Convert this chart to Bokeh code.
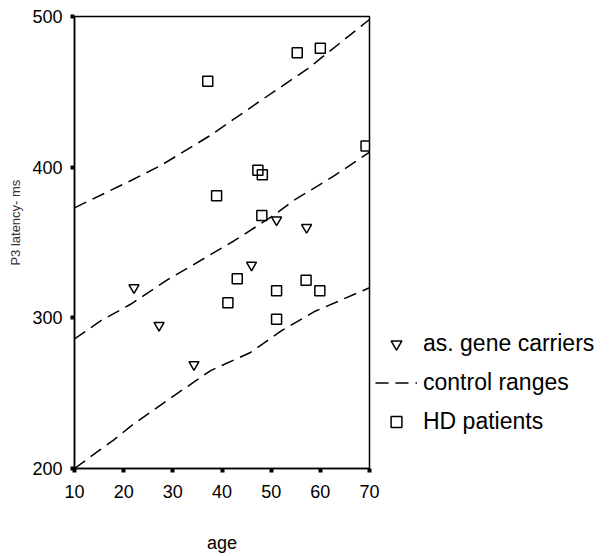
from bokeh.plotting import figure
from bokeh.models import Range1d, FixedTicker, Legend, LegendItem
from bokeh.embed import file_html
from bokeh.resources import INLINE

# HD patients (squares)
hd_age = [37.1, 55.3, 60.0, 69.3, 47.3, 48.2, 38.9, 48.1, 43.1, 57.1, 51.1, 59.9, 41.2, 51.1]
hd_p3 = [457, 476, 479, 414, 398, 395, 381, 368, 326, 325, 318, 318, 310, 299]

# asymptomatic gene carriers (inverted triangles)
gc_age = [51.1, 57.2, 46.0, 22.1, 27.2, 34.3]
gc_p3 = [365, 360, 335, 320, 295, 269]

# control ranges (dashed curves)
upper_age = [10, 21.4, 27.5, 37.6, 47.8, 57.3, 70]
upper_p3 = [373, 391, 401, 421, 444, 465, 498]
middle_age = [10, 15.3, 21.4, 28.8, 42.4, 50.5, 54.6, 62.7, 70]
middle_p3 = [286, 298, 309, 325, 351, 368, 378, 394, 410]
lower_age = [10, 14.6, 18, 21.4, 29.2, 37.7, 45.8, 51.9, 58.7, 70]
lower_p3 = [200, 211, 219, 228, 246, 265, 277, 291, 304, 320]

x_ticks = [10, 20, 30, 40, 50, 60, 70]
y_ticks = [200, 300, 400, 500]

FONT = "Liberation Sans"

p = figure(output_backend="svg", toolbar_location=None,
           x_range=Range1d(10, 70), y_range=Range1d(200, 500),
           frame_width=295, frame_height=452,
           min_border_left=74, min_border_right=224, min_border_top=16, min_border_bottom=84,
           background_fill_color="white", border_fill_color="white")
p.grid.visible = False
p.outline_line_color = "black"
p.outline_line_width = 1.5

for ax in (p.xaxis[0], p.yaxis[0]):
    ax.axis_line_color = "black"
    ax.axis_line_width = 1.5
    ax.major_tick_line_color = "black"
    ax.major_tick_line_width = 4
    ax.major_tick_in = 0
    ax.major_tick_out = 4
    ax.minor_tick_line_color = None
    ax.major_label_text_font = FONT
    ax.major_label_text_font_size = "18px"
    ax.major_label_text_color = "black"
    ax.axis_label_text_font = FONT
    ax.axis_label_text_font_style = "normal"

p.xaxis.ticker = FixedTicker(ticks=x_ticks)
p.yaxis.ticker = FixedTicker(ticks=y_ticks)
p.xaxis.axis_label = "age"
p.xaxis.axis_label_text_font_size = "18px"
p.xaxis.axis_label_text_color = "black"
p.xaxis.major_label_standoff = 12
p.xaxis.axis_label_standoff = 32
p.yaxis.axis_label = "\u00a0" * 11 + "P3 latency- ms"
p.yaxis.axis_label_text_font_size = "13px"
p.yaxis.axis_label_text_color = "#333333"
p.yaxis.major_label_standoff = 8
p.yaxis.axis_label_standoff = 6

dash = "13 7"
l_up = p.line(upper_age, upper_p3, line_color="black", line_width=1.5, line_dash=dash)
l_mid = p.line(middle_age, middle_p3, line_color="black", line_width=1.5, line_dash=dash)
l_low = p.line(lower_age, lower_p3, line_color="black", line_width=1.5, line_dash=dash)

sq = p.scatter(hd_age, hd_p3, marker="square", size=10, fill_color=None,
               line_color="black", line_width=1.5)
tri = p.scatter(gc_age, gc_p3, marker="inverted_triangle", size=10, fill_color=None,
                line_color="black", line_width=1.5)

legend = Legend(items=[
    LegendItem(label="as. gene carriers", renderers=[tri]),
    LegendItem(label="control ranges", renderers=[l_up]),
    LegendItem(label="HD patients", renderers=[sq]),
], location=(6, 33))
legend.border_line_color = None
legend.background_fill_alpha = 0
legend.padding = 0
legend.margin = 0
legend.spacing = 12
legend.glyph_width = 42
legend.glyph_height = 27
legend.label_height = 27
legend.label_standoff = 6
legend.label_text_font = FONT
legend.label_text_font_size = "23px"
legend.label_text_color = "black"
p.add_layout(legend, "right")

open("out.html", "w").write(file_html(p, INLINE))
